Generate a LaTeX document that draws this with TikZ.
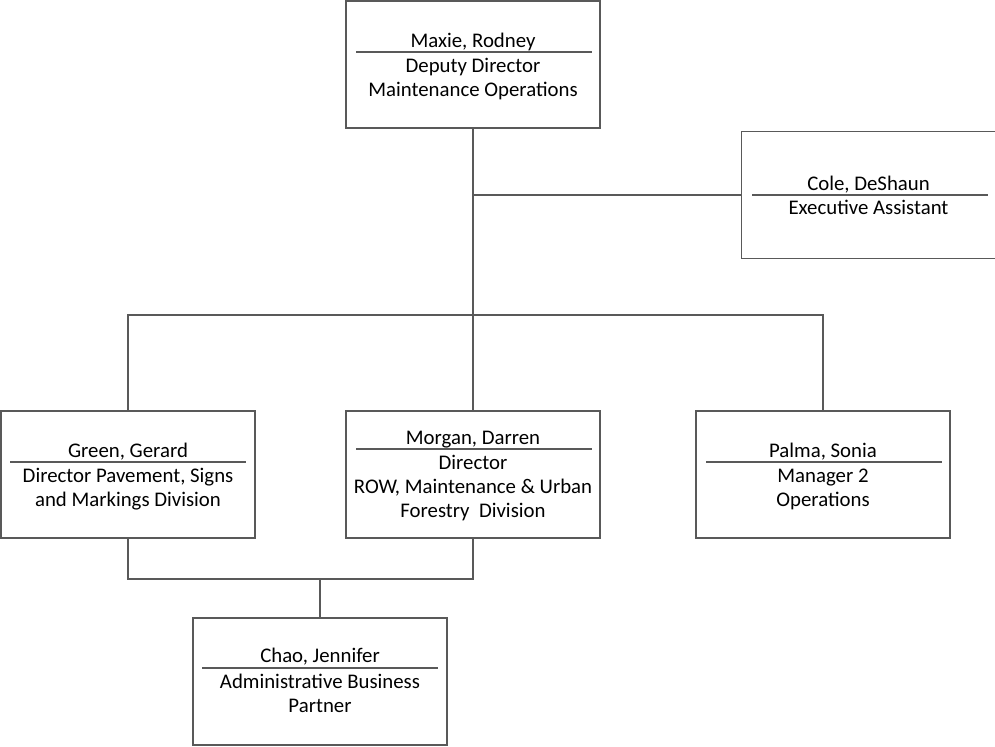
\documentclass[tikz,border=0pt]{standalone}
\usepackage{fontspec}
\setmainfont{Carlito}
\definecolor{edge}{HTML}{595959}
\tikzset{
  orgbox/.style={draw=edge, line width=1pt, minimum width=190.5pt, minimum height=95.25pt, inner sep=0pt, fill=white},
  nametext/.style={anchor=base, inner sep=0pt, font=\fontsize{15.6pt}{18pt}\selectfont},
  titletext/.style={anchor=base, inner sep=0pt, align=center, font=\fontsize{15.6pt}{18pt}\selectfont},
  sepline/.style={draw=edge, line width=0.9pt},
  conn/.style={draw=edge, line width=1pt}
}
\begin{document}
\begin{tikzpicture}[x=0.75pt, y=-0.75pt]
\useasboundingbox (0,0) rectangle (995,746);
% boxes
\node[orgbox] (maxie) at (473,64.5) {};
\node[orgbox] (cole) at (868.5,195) {};
\node[orgbox] (green) at (128,474.5) {};
\node[orgbox] (morgan) at (473,474.5) {};
\node[orgbox] (palma) at (823,474.5) {};
\node[orgbox] (chao) at (320,681.5) {};
% connectors
\coordinate (jtop) at (473,315);
\coordinate (jcole) at (473,195);
\coordinate (jbot) at (320,579);
\draw[conn] (maxie.south) -- (jtop);
\draw[conn] (jcole) -- (cole.west);
\draw[conn] (green.north) |- (jtop) -| (palma.north);
\draw[conn] (jtop) -- (morgan.north);
\draw[conn] (green.south) |- (jbot) -| (morgan.south);
\draw[conn] (jbot) -- (chao.north);
% Maxie (title anchored at baseline of its last line)
\node[nametext] (maxieN) at (473,47) {Maxie, Rodney};
\coordinate (maxieS1) at (356,52); \coordinate (maxieS2) at (592,52);
\draw[sepline] (maxieS1) -- (maxieS2);
\node[titletext] (maxieT) at (473,96) {Deputy Director\\Maintenance Operations};
% Cole
\node[nametext] (coleN) at (868.5,190) {Cole, DeShaun};
\coordinate (coleS1) at (752,195); \coordinate (coleS2) at (988,195);
\draw[sepline] (coleS1) -- (coleS2);
\node[titletext] (coleT) at (868.5,214) {Executive Assistant};
% Green
\node[nametext] (greenN) at (128,457) {Green, Gerard};
\coordinate (greenS1) at (10,462); \coordinate (greenS2) at (246,462);
\draw[sepline] (greenS1) -- (greenS2);
\node[titletext] (greenT) at (128,506.5) {Director Pavement, Signs\\and Markings Division};
% Morgan
\node[nametext] (morganN) at (473,444.5) {Morgan, Darren};
\coordinate (morganS1) at (356,449); \coordinate (morganS2) at (592,449);
\draw[sepline] (morganS1) -- (morganS2);
\node[titletext] (morganT) at (473,517.5) {Director\\ROW, Maintenance \& Urban\\Forestry\ \ Division};
% Palma
\node[nametext] (palmaN) at (823,457) {Palma, Sonia};
\coordinate (palmaS1) at (706,462); \coordinate (palmaS2) at (942,462);
\draw[sepline] (palmaS1) -- (palmaS2);
\node[titletext] (palmaT) at (823,506.5) {Manager 2\\Operations};
% Chao
\node[nametext] (chaoN) at (320,662.5) {Chao, Jennifer};
\coordinate (chaoS1) at (202,668); \coordinate (chaoS2) at (438,668);
\draw[sepline] (chaoS1) -- (chaoS2);
\node[titletext] (chaoT) at (320,712.5) {Administrative Business\\Partner};
\end{tikzpicture}
\end{document}
